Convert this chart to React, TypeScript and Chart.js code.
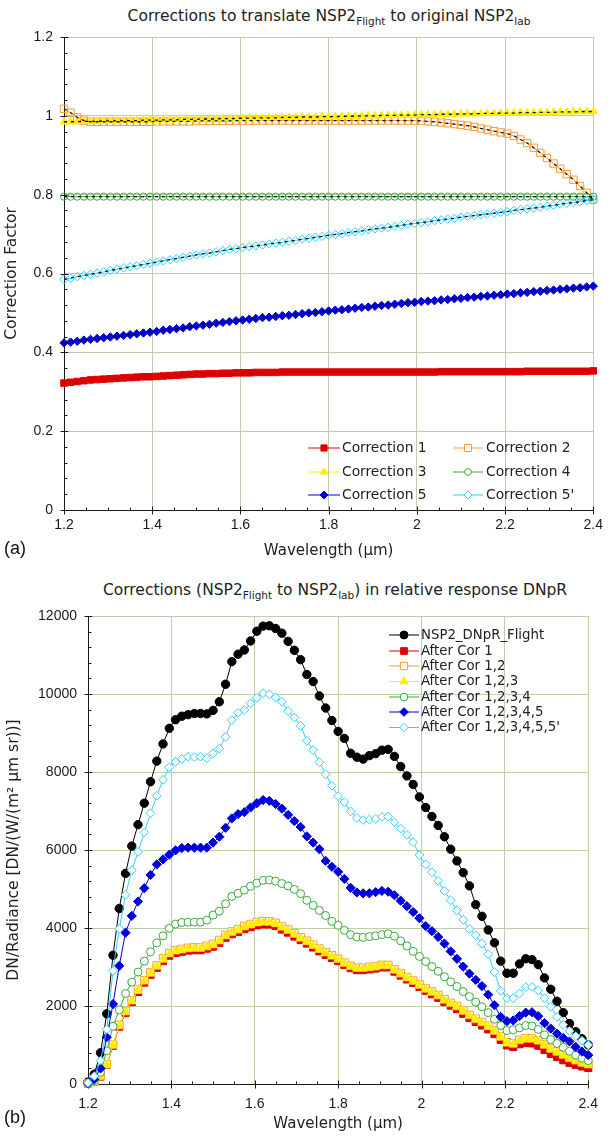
import React, { useEffect, useRef } from 'react';
import { Chart, registerables } from 'chart.js';
import { drawPoint } from 'chart.js/helpers';
Chart.register(...registerables);

// ---------- shared wavelength grid (µm) ----------
const wavelength = [
  1.200, 1.215, 1.230, 1.245, 1.260, 1.275, 1.290, 1.305, 1.320, 1.335,
  1.350, 1.365, 1.380, 1.395, 1.410, 1.425, 1.440, 1.455, 1.470, 1.485,
  1.500, 1.515, 1.530, 1.545, 1.560, 1.575, 1.590, 1.605, 1.620, 1.635,
  1.650, 1.665, 1.680, 1.695, 1.710, 1.725, 1.740, 1.755, 1.770, 1.785,
  1.800, 1.815, 1.830, 1.845, 1.860, 1.875, 1.890, 1.905, 1.920, 1.935,
  1.950, 1.965, 1.980, 1.995, 2.010, 2.025, 2.040, 2.055, 2.070, 2.085,
  2.100, 2.115, 2.130, 2.145, 2.160, 2.175, 2.190, 2.205, 2.220, 2.235,
  2.250, 2.265, 2.280, 2.295, 2.310, 2.325, 2.340, 2.355, 2.370, 2.385,
  2.400,
];

// ---------- panel (a): correction factors ----------
const correction1 = [
  0.322, 0.324, 0.326, 0.328, 0.330, 0.331, 0.332, 0.333, 0.334, 0.335,
  0.336, 0.337, 0.338, 0.338, 0.339, 0.340, 0.341, 0.342, 0.343, 0.344,
  0.345, 0.345, 0.346, 0.346, 0.347, 0.347, 0.348, 0.348, 0.348, 0.349,
  0.349, 0.349, 0.349, 0.350, 0.350, 0.350, 0.350, 0.350, 0.350, 0.350,
  0.350, 0.350, 0.350, 0.350, 0.350, 0.350, 0.350, 0.350, 0.350, 0.350,
  0.350, 0.350, 0.350, 0.350, 0.350, 0.350, 0.350, 0.351, 0.351, 0.351,
  0.351, 0.351, 0.351, 0.351, 0.351, 0.351, 0.351, 0.351, 0.351, 0.351,
  0.352, 0.352, 0.352, 0.352, 0.352, 0.352, 0.352, 0.352, 0.352, 0.352,
  0.353,
];
const correction2 = [
  1.018, 1.008, 0.996, 0.988, 0.985, 0.985, 0.985, 0.985, 0.985, 0.985,
  0.985, 0.985, 0.985, 0.985, 0.986, 0.986, 0.986, 0.986, 0.986, 0.986,
  0.987, 0.987, 0.987, 0.987, 0.987, 0.987, 0.988, 0.988, 0.988, 0.988,
  0.988, 0.988, 0.988, 0.988, 0.988, 0.988, 0.988, 0.988, 0.988, 0.988,
  0.988, 0.988, 0.988, 0.988, 0.988, 0.988, 0.988, 0.988, 0.988, 0.988,
  0.988, 0.988, 0.988, 0.988, 0.987, 0.986, 0.985, 0.983, 0.981, 0.979,
  0.977, 0.975, 0.972, 0.968, 0.965, 0.961, 0.958, 0.955, 0.949, 0.940,
  0.931, 0.919, 0.906, 0.893, 0.879, 0.866, 0.852, 0.838, 0.822, 0.805,
  0.787,
];
const correction3 = [
  0.985, 0.985, 0.985, 0.986, 0.986, 0.986, 0.987, 0.987, 0.987, 0.988,
  0.988, 0.988, 0.989, 0.989, 0.989, 0.990, 0.990, 0.990, 0.991, 0.991,
  0.991, 0.992, 0.992, 0.992, 0.993, 0.993, 0.993, 0.994, 0.994, 0.994,
  0.995, 0.995, 0.995, 0.996, 0.996, 0.996, 0.997, 0.997, 0.997, 0.998,
  0.998, 0.998, 0.999, 0.999, 0.999, 1.000, 1.000, 1.000, 1.001, 1.001,
  1.001, 1.002, 1.002, 1.002, 1.003, 1.003, 1.003, 1.004, 1.004, 1.004,
  1.005, 1.005, 1.005, 1.006, 1.006, 1.006, 1.007, 1.007, 1.007, 1.008,
  1.008, 1.008, 1.009, 1.009, 1.009, 1.010, 1.010, 1.010, 1.011, 1.011,
  1.011,
];
const correction4 = [
  0.795, 0.795, 0.795, 0.795, 0.795, 0.795, 0.795, 0.795, 0.795, 0.795,
  0.795, 0.795, 0.795, 0.795, 0.795, 0.795, 0.795, 0.795, 0.795, 0.795,
  0.795, 0.795, 0.795, 0.795, 0.795, 0.795, 0.795, 0.795, 0.795, 0.795,
  0.795, 0.795, 0.795, 0.795, 0.795, 0.795, 0.795, 0.795, 0.795, 0.795,
  0.795, 0.795, 0.795, 0.795, 0.795, 0.795, 0.795, 0.795, 0.795, 0.795,
  0.795, 0.795, 0.795, 0.795, 0.795, 0.795, 0.795, 0.795, 0.795, 0.795,
  0.795, 0.795, 0.795, 0.795, 0.795, 0.795, 0.795, 0.795, 0.795, 0.795,
  0.795, 0.795, 0.795, 0.795, 0.795, 0.795, 0.795, 0.795, 0.795, 0.795,
  0.795,
];
const correction5 = [
  0.424, 0.426, 0.428, 0.431, 0.433, 0.435, 0.437, 0.439, 0.441, 0.443,
  0.445, 0.447, 0.449, 0.451, 0.453, 0.456, 0.458, 0.460, 0.462, 0.465,
  0.467, 0.469, 0.471, 0.474, 0.476, 0.478, 0.480, 0.482, 0.484, 0.486,
  0.488, 0.489, 0.491, 0.493, 0.494, 0.496, 0.498, 0.500, 0.501, 0.503,
  0.505, 0.507, 0.508, 0.510, 0.512, 0.514, 0.515, 0.517, 0.519, 0.520,
  0.522, 0.524, 0.526, 0.527, 0.529, 0.530, 0.531, 0.533, 0.534, 0.536,
  0.537, 0.539, 0.540, 0.542, 0.543, 0.545, 0.546, 0.548, 0.549, 0.551,
  0.552, 0.554, 0.555, 0.557, 0.558, 0.560, 0.561, 0.563, 0.564, 0.566,
  0.568,
];
const correction5p = [
  0.585, 0.588, 0.592, 0.595, 0.598, 0.601, 0.604, 0.608, 0.611, 0.614,
  0.617, 0.620, 0.623, 0.626, 0.629, 0.632, 0.635, 0.638, 0.641, 0.644,
  0.647, 0.650, 0.652, 0.655, 0.658, 0.661, 0.663, 0.666, 0.668, 0.670,
  0.672, 0.675, 0.677, 0.679, 0.682, 0.684, 0.687, 0.689, 0.692, 0.694,
  0.697, 0.699, 0.701, 0.704, 0.706, 0.708, 0.711, 0.713, 0.715, 0.717,
  0.720, 0.722, 0.725, 0.727, 0.729, 0.731, 0.734, 0.736, 0.738, 0.740,
  0.743, 0.745, 0.747, 0.749, 0.751, 0.753, 0.755, 0.757, 0.760, 0.762,
  0.764, 0.766, 0.768, 0.771, 0.773, 0.776, 0.778, 0.780, 0.782, 0.785,
  0.787,
];

// ---------- panel (b): relative response DNpR ----------
const dnprFlight = [
  50, 250, 800, 1800, 3300, 4500, 5400, 6100, 6650, 7200,
  7750, 8280, 8720, 9120, 9340, 9430, 9470, 9500, 9500, 9490,
  9580, 9800, 10250, 10830, 11020, 11130, 11360, 11610, 11740, 11750,
  11680, 11560, 11350, 11120, 10880, 10500, 10320, 9950, 9640, 9320,
  9040, 8860, 8480, 8380, 8330, 8420, 8470, 8560, 8580, 8400,
  8140, 7900, 7680, 7360, 7090, 6860, 6630, 6340, 6020, 5720,
  5420, 5080, 4600, 4300, 3950, 3620, 3150, 2840, 2840, 3080,
  3210, 3190, 3060, 2720, 2430, 2120, 1830, 1550, 1340, 1160,
  1000,
];
const afterCor1 = [
  10, 55, 190, 490, 980, 1470, 1820, 2100, 2360, 2600,
  2800, 2980, 3150, 3290, 3360, 3390, 3420, 3430, 3430, 3470,
  3520, 3620, 3750, 3840, 3900, 3970, 4020, 4070, 4090, 4090,
  4050, 3960, 3880, 3780, 3690, 3600, 3500, 3400, 3310, 3230,
  3150, 3050, 2970, 2920, 2920, 2940, 2960, 2990, 2990, 2880,
  2780, 2680, 2590, 2490, 2390, 2300, 2210, 2100, 2010, 1920,
  1800, 1690, 1590, 1500, 1400, 1280, 1130, 990, 950, 1020,
  1050, 1040, 980, 870, 770, 690, 610, 540, 490, 450,
  410,
];
const afterCor12 = [
  10, 60, 205, 505, 1010, 1515, 1870, 2150, 2420, 2660,
  2860, 3040, 3220, 3360, 3430, 3460, 3490, 3500, 3500, 3540,
  3590, 3690, 3820, 3910, 3970, 4050, 4100, 4150, 4170, 4170,
  4130, 4040, 3960, 3860, 3760, 3670, 3570, 3470, 3380, 3300,
  3210, 3110, 3030, 2980, 2980, 3000, 3020, 3050, 3050, 2940,
  2840, 2740, 2650, 2550, 2450, 2370, 2280, 2170, 2080, 2000,
  1880, 1770, 1670, 1590, 1490, 1370, 1220, 1070, 1040, 1130,
  1170, 1170, 1120, 1010, 910, 830, 750, 670, 610, 550,
  510,
];
const afterCor123 = [
  10, 60, 200, 500, 1000, 1500, 1850, 2130, 2400, 2640,
  2840, 3020, 3200, 3340, 3410, 3440, 3470, 3480, 3480, 3520,
  3570, 3670, 3800, 3890, 3950, 4030, 4080, 4130, 4150, 4150,
  4110, 4020, 3940, 3840, 3740, 3650, 3550, 3450, 3360, 3280,
  3200, 3100, 3020, 2970, 2970, 2990, 3010, 3040, 3040, 2930,
  2830, 2730, 2640, 2540, 2440, 2360, 2270, 2160, 2070, 1990,
  1870, 1760, 1660, 1580, 1480, 1360, 1210, 1060, 1030, 1120,
  1160, 1160, 1110, 1000, 900, 820, 740, 660, 600, 540,
  500,
];
const afterCor1234 = [
  10, 80, 300, 850, 1480, 1900, 2320, 2610, 2870, 3150,
  3390, 3620, 3800, 3990, 4100, 4140, 4150, 4150, 4150, 4200,
  4330, 4430, 4620, 4810, 4890, 4970, 5070, 5150, 5220, 5230,
  5200, 5140, 5080, 4990, 4880, 4710, 4580, 4450, 4320, 4170,
  4070, 3940, 3830, 3770, 3760, 3780, 3800, 3830, 3850, 3790,
  3670, 3540, 3400, 3270, 3140, 3010, 2890, 2750, 2620, 2500,
  2370, 2240, 2100, 1980, 1830, 1660, 1500, 1370, 1390, 1440,
  1500, 1490, 1400, 1260, 1140, 1040, 940, 840, 740, 660,
  600,
];
const afterCor12345 = [
  20, 120, 400, 1200, 2050, 3030, 3880, 4310, 4680, 5020,
  5360, 5630, 5760, 5880, 5990, 6050, 6060, 6060, 6060, 6060,
  6190, 6340, 6570, 6810, 6920, 6970, 7090, 7200, 7280, 7260,
  7180, 7060, 6900, 6740, 6590, 6350, 6190, 6020, 5720, 5570,
  5440, 5260, 5030, 4910, 4890, 4890, 4920, 4950, 4930, 4840,
  4700, 4560, 4410, 4250, 4050, 3920, 3770, 3600, 3400, 3210,
  3010, 2830, 2670, 2510, 2290, 2020, 1720, 1610, 1630, 1740,
  1830, 1840, 1740, 1560, 1420, 1290, 1180, 1090, 950, 830,
  740,
];
const afterCor123455p = [
  30, 200, 600, 1400, 2900, 3980, 4850, 5480, 5950, 6450,
  6940, 7390, 7800, 8120, 8260, 8340, 8390, 8380, 8390, 8350,
  8480, 8600, 8900, 9330, 9520, 9590, 9760, 9900, 10020, 9990,
  9910, 9800, 9560, 9400, 9180, 8800, 8560, 8250, 7940, 7650,
  7380, 7230, 6990, 6820, 6770, 6780, 6800, 6850, 6860, 6710,
  6550, 6390, 6200, 5870, 5630, 5430, 5210, 4950, 4710, 4450,
  4210, 3970, 3820, 3600, 3330, 2870, 2390, 2200, 2200, 2320,
  2480, 2490, 2400, 2200, 1980, 1720, 1520, 1360, 1230, 1110,
  1000,
];

// ---------- ticks ----------
const xTickValues = [1.2, 1.4, 1.6, 1.8, 2.0, 2.2, 2.4];
const yTickValuesA = [0, 0.2, 0.4, 0.6, 0.8, 1.0, 1.2];
const yTickValuesB = [0, 2000, 4000, 6000, 8000, 10000, 12000];

const GRID = 'rgb(188,209,168)';
const TICK_FONT = '"Liberation Sans", Arial, sans-serif';
const LUCIDA = '"DejaVu Sans", Verdana, sans-serif';

type Series = {
  label: string;
  data: number[];
  color: string;
  style: string;
  r: number;
  open: boolean;
};

const fmt = (v: number) => String(parseFloat(Number(v).toFixed(3)));
const toPts = (ys: number[]) => ys.map((y, i) => ({ x: wavelength[i], y }));

function axesPlugin(yMinorStep: number, yMax: number, xMinorStep: number, yMajor: number[]) {
  return {
    id: 'axesDecor',
    beforeDatasetsDraw(chart: any) {
      const { ctx, chartArea: a, scales } = chart;
      const xs = scales.x;
      const ys = scales.y;
      const L = Math.round(a.left) + 0.5;
      const B = Math.round(a.bottom) + 0.5;
      ctx.save();
      ctx.strokeStyle = '#1a1a1a';
      ctx.lineWidth = 1;
      ctx.beginPath();
      ctx.moveTo(L, a.top);
      ctx.lineTo(L, B);
      ctx.lineTo(a.right, B);
      ctx.stroke();
      ctx.beginPath();
      for (let k = 0; k * yMinorStep <= yMax + 1e-9; k++) {
        const py = Math.round(ys.getPixelForValue(k * yMinorStep)) + 0.5;
        ctx.moveTo(L, py);
        ctx.lineTo(L + 3, py);
      }
      yMajor.forEach((v) => {
        const py = Math.round(ys.getPixelForValue(v)) + 0.5;
        ctx.moveTo(L - 4, py);
        ctx.lineTo(L + 4, py);
      });
      for (let k = 0; 1.2 + k * xMinorStep <= 2.4 + 1e-9; k++) {
        const px = Math.round(xs.getPixelForValue(1.2 + k * xMinorStep)) + 0.5;
        ctx.moveTo(px, B);
        ctx.lineTo(px, B - 3);
      }
      xTickValues.forEach((v) => {
        const px = Math.round(xs.getPixelForValue(v)) + 0.5;
        ctx.moveTo(px, B - 4);
        ctx.lineTo(px, B + 4);
      });
      ctx.stroke();
      ctx.restore();
    },
  };
}

type LegendPos = { x1: number; x2: number; tx: number; y: number };

function legendPlugin(items: Series[], pos: LegendPos[], font: string) {
  return {
    id: 'customLegend',
    afterDatasetsDraw(chart: any) {
      const ctx = chart.ctx;
      ctx.save();
      items.forEach((it, i) => {
        const p = pos[i];
        ctx.strokeStyle = it.color;
        ctx.lineWidth = 1;
        ctx.beginPath();
        ctx.moveTo(p.x1, p.y);
        ctx.lineTo(p.x2, p.y);
        ctx.stroke();
        ctx.fillStyle = it.open ? '#ffffff' : it.color;
        ctx.strokeStyle = it.color;
        ctx.lineWidth = 1;
        drawPoint(ctx, { pointStyle: it.style, radius: it.r * 0.95, borderWidth: 1, rotation: 0 } as any, (p.x1 + p.x2) / 2, p.y);
        ctx.fillStyle = '#222';
        ctx.font = font;
        ctx.textBaseline = 'middle';
        ctx.textAlign = 'left';
        ctx.fillText(it.label, p.tx, p.y + 0.5);
      });
      ctx.restore();
    },
  };
}

function makeDatasets(series: Series[], openFill: string, withFits: boolean) {
  const n = series.length;
  const ds: any[] = series.map((s, i) => ({
    label: s.label,
    data: toPts(s.data),
    borderColor: s.color,
    backgroundColor: s.open ? openFill : s.color,
    borderWidth: 1,
    pointStyle: s.style,
    pointRadius: s.r,
    pointBorderWidth: 1,
    pointBorderColor: s.color,
    pointBackgroundColor: s.open ? openFill : s.color,
    tension: 0,
    clip: false,
    order: n - i + 20,
  }));
  if (withFits) {
    series.slice(1).forEach((s) => {
      ds.push({
        label: s.label + ' fit',
        data: toPts(s.data),
        borderColor: '#111',
        borderWidth: 1.3,
        borderDash: [3, 4],
        pointRadius: 0,
        tension: 0,
        clip: false,
        order: 0,
      });
    });
  }
  return ds;
}

function baseOptions(opts: {
  padTop: number; yWidth: number; xHeight: number; yMax: number; yTicks: number[];
  xTitle: string; yTitle: string; xTitlePad: number; yTitlePad: number; xTickPad: number;
}) {
  return {
    animation: false,
    responsive: false,
    maintainAspectRatio: false,
    events: [],
    layout: { padding: { top: opts.padTop, right: 16, left: 0, bottom: 0 } },
    plugins: { legend: { display: false }, tooltip: { enabled: false }, title: { display: false } },
    scales: {
      x: {
        type: 'linear',
        min: 1.2,
        max: 2.4,
        afterBuildTicks: (s: any) => { s.ticks = xTickValues.map((v) => ({ value: v })); },
        afterFit: (s: any) => { s.height = opts.xHeight; },
        ticks: {
          callback: (v: any) => fmt(v),
          font: { family: TICK_FONT, size: 14 },
          color: '#1a1a1a',
          padding: opts.xTickPad,
          maxRotation: 0,
          autoSkip: false,
        },
        grid: { color: GRID, lineWidth: 1, drawTicks: false },
        border: { display: false },
        title: {
          display: true,
          text: opts.xTitle,
          font: { family: LUCIDA, size: 15 },
          color: '#222',
          padding: { top: 0, bottom: opts.xTitlePad },
        },
      },
      y: {
        type: 'linear',
        min: 0,
        max: opts.yMax,
        afterBuildTicks: (s: any) => { s.ticks = opts.yTicks.map((v) => ({ value: v })); },
        afterFit: (s: any) => { s.width = opts.yWidth; },
        ticks: {
          callback: (v: any) => fmt(v),
          font: { family: TICK_FONT, size: 14 },
          color: '#1a1a1a',
          padding: 11,
          autoSkip: false,
        },
        grid: { color: GRID, lineWidth: 1, drawTicks: false },
        border: { display: false },
        title: {
          display: true,
          text: opts.yTitle,
          font: { family: LUCIDA, size: 15.5 },
          color: '#222',
          padding: { top: opts.yTitlePad, bottom: 0 },
        },
      },
    },
  };
}

export default function App() {
  const refA = useRef<HTMLCanvasElement>(null);
  const refB = useRef<HTMLCanvasElement>(null);

  useEffect(() => {
    const seriesA: Series[] = [
      { label: 'Correction 1', data: correction1, color: '#dd0000', style: 'rect', r: 4.6, open: false },
      { label: 'Correction 2', data: correction2, color: '#ff9933', style: 'rect', r: 5.2, open: true },
      { label: 'Correction 3', data: correction3, color: '#ffee00', style: 'triangle', r: 4.4, open: false },
      { label: 'Correction 4', data: correction4, color: '#3aaa3a', style: 'circle', r: 3.6, open: true },
      { label: 'Correction 5', data: correction5, color: '#0000dd', style: 'rectRot', r: 4.2, open: false },
      { label: "Correction 5'", data: correction5p, color: '#33ccff', style: 'rectRot', r: 4.2, open: true },
    ];
    const seriesB: Series[] = [
      { label: 'NSP2_DNpR_Flight', data: dnprFlight, color: '#000000', style: 'circle', r: 4.2, open: false },
      { label: 'After Cor 1', data: afterCor1, color: '#dd0000', style: 'rect', r: 5, open: false },
      { label: 'After Cor 1,2', data: afterCor12, color: '#ff9933', style: 'rect', r: 5.4, open: true },
      { label: 'After Cor 1,2,3', data: afterCor123, color: '#ffee00', style: 'triangle', r: 4.8, open: false },
      { label: 'After Cor 1,2,3,4', data: afterCor1234, color: '#3aaa3a', style: 'circle', r: 4, open: true },
      { label: 'After Cor 1,2,3,4,5', data: afterCor12345, color: '#0000dd', style: 'rectRot', r: 4.6, open: false },
      { label: "After Cor 1,2,3,4,5,5'", data: afterCor123455p, color: '#33ccff', style: 'rectRot', r: 4.4, open: true },
    ];

    const legendA: LegendPos[] = [
      { x1: 308, x2: 340, tx: 342, y: 448 },
      { x1: 453, x2: 483, tx: 486, y: 448 },
      { x1: 308, x2: 340, tx: 342, y: 472 },
      { x1: 453, x2: 483, tx: 486, y: 472 },
      { x1: 308, x2: 340, tx: 342, y: 495 },
      { x1: 453, x2: 483, tx: 486, y: 495 },
    ];
    const topB = 565;
    const legendB: LegendPos[] = [635, 651, 666, 681.5, 697, 712, 727.5].map((y) => ({
      x1: 389, x2: 419, tx: 421, y: y - topB,
    }));

    const chartA = new Chart(refA.current as HTMLCanvasElement, {
      type: 'line',
      data: { datasets: makeDatasets(seriesA, 'rgba(255,255,255,0)', true) },
      options: baseOptions({
        padTop: 37, yWidth: 64, xHeight: 55, yMax: 1.2, yTicks: yTickValuesA,
        xTitle: 'Wavelength (µm)', yTitle: 'Correction Factor', xTitlePad: 5, yTitlePad: 3, xTickPad: 7,
      }) as any,
      plugins: [axesPlugin(0.04, 1.2, 0.05, yTickValuesA), legendPlugin(seriesA, legendA, '13.8px "DejaVu Sans"')],
    });

    const chartB = new Chart(refB.current as HTMLCanvasElement, {
      type: 'line',
      data: { datasets: makeDatasets(seriesB, '#ffffff', false) },
      options: baseOptions({
        padTop: 51, yWidth: 88, xHeight: 52, yMax: 12000, yTicks: yTickValuesB,
        xTitle: 'Wavelength (µm)', yTitle: 'DN/Radiance [DN/(W/(m² µm sr))]', xTitlePad: 3, yTitlePad: 5, xTickPad: 12,
      }) as any,
      plugins: [axesPlugin(400, 12000, 0.05, yTickValuesB), legendPlugin(seriesB, legendB, '13.3px "DejaVu Sans"')],
    });

    return () => {
      chartA.destroy();
      chartB.destroy();
    };
  }, []);

  const subStyle: React.CSSProperties = { fontSize: 10.5, verticalAlign: -4, lineHeight: 0 };
  const titleStyle: React.CSSProperties = {
    position: 'absolute', left: 0, width: 610, textAlign: 'center',
    fontFamily: LUCIDA, fontSize: 15.5, color: '#222', whiteSpace: 'nowrap', lineHeight: '18px',
  };
  const panelLabel: React.CSSProperties = {
    position: 'absolute', left: 4, fontFamily: TICK_FONT, fontSize: 18, color: '#111', lineHeight: '20px',
  };

  return (
    <div style={{ position: 'absolute', left: 0, top: 0, width: 610, height: 1136, background: '#fff', overflow: 'hidden' }}>
      <div style={{ ...titleStyle, top: 7, paddingLeft: 48, boxSizing: 'border-box' }}>
        Corrections to translate NSP2<sub style={subStyle}>Flight</sub> to original NSP2<sub style={subStyle}>lab</sub>
      </div>
      <canvas ref={refA} width={610} height={565} style={{ position: 'absolute', left: 0, top: 0, width: 610, height: 565 }} />
      <div style={{ ...panelLabel, top: 538 }}>(a)</div>
      <div style={{ ...titleStyle, top: 581, paddingLeft: 60, boxSizing: 'border-box' }}>
        Corrections (NSP2<sub style={subStyle}>Flight</sub> to NSP2<sub style={subStyle}>lab</sub>) in relative response DNpR
      </div>
      <canvas ref={refB} width={610} height={571} style={{ position: 'absolute', left: 0, top: 565, width: 610, height: 571 }} />
      <div style={{ ...panelLabel, top: 1107 }}>(b)</div>
    </div>
  );
}
